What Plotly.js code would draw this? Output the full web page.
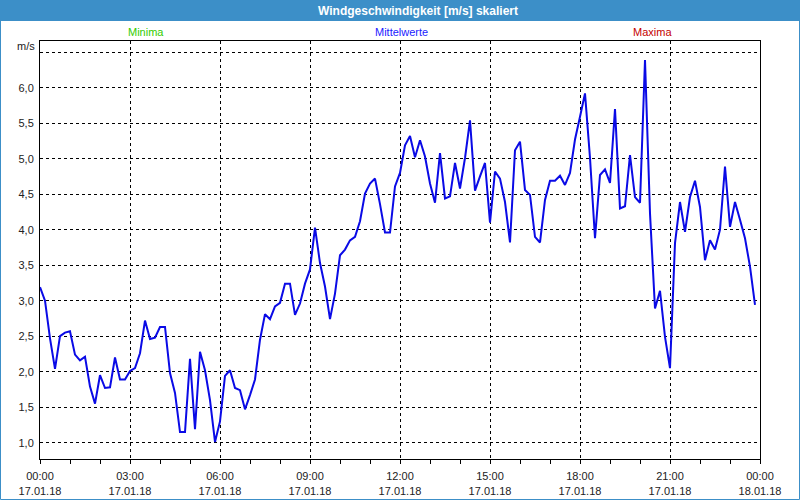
<!DOCTYPE html>
<html>
<head>
<meta charset="utf-8">
<script src="https://cdn.plot.ly/plotly-3.0.1.min.js"></script>
<style>
  html, body { margin: 0; padding: 0; background: #ffffff; }
  #chart { width: 800px; height: 500px; }
</style>
</head>
<body>
<div id="chart"></div>
<script>
// ---- data (10-minute means, 17.01.18 00:00 .. 23:50) ----
const speed = [
  3.19, 3.00, 2.47, 2.04, 2.50, 2.55, 2.57, 2.24, 2.16, 2.21,
  1.79, 1.55, 1.95, 1.77, 1.78, 2.20, 1.89, 1.89, 2.01, 2.05,
  2.26, 2.72, 2.46, 2.48, 2.63, 2.63, 1.98, 1.70, 1.15, 1.15,
  2.18, 1.19, 2.28, 2.02, 1.60, 1.01, 1.30, 1.94, 2.02, 1.77,
  1.74, 1.47, 1.67, 1.89, 2.45, 2.81, 2.74, 2.92, 2.97, 3.24,
  3.24, 2.80, 2.96, 3.24, 3.44, 4.03, 3.53, 3.20, 2.74, 3.10,
  3.64, 3.72, 3.85, 3.90, 4.12, 4.51, 4.65, 4.72, 4.36, 3.96,
  3.96, 4.61, 4.80, 5.19, 5.32, 5.02, 5.26, 5.03, 4.65, 4.38,
  5.08, 4.44, 4.47, 4.94, 4.58, 5.01, 5.54, 4.55, 4.75, 4.94,
  4.10, 4.82, 4.72, 4.39, 3.82, 5.12, 5.24, 4.56, 4.49, 3.90,
  3.82, 4.42, 4.69, 4.69, 4.76, 4.63, 4.80, 5.27, 5.59, 5.92,
  5.01, 3.88, 4.77, 4.85, 4.66, 5.70, 4.30, 4.33, 5.05, 4.46,
  4.38, 6.39, 4.23, 2.89, 3.14, 2.49, 2.05, 3.81, 4.39, 3.97,
  4.46, 4.69, 4.32, 3.57, 3.85, 3.72, 4.00, 4.89, 4.04, 4.39,
  4.14, 3.88, 3.48, 2.94
];
const stepHours = 10 / 60;            // sampling interval
const xTickVals = [0, 3, 6, 9, 12, 15, 18, 21, 24];
const xTickTime = ["00:00", "03:00", "06:00", "09:00", "12:00", "15:00", "18:00", "21:00", "00:00"];
const xTickDate = ["17.01.18", "17.01.18", "17.01.18", "17.01.18", "17.01.18", "17.01.18", "17.01.18", "17.01.18", "18.01.18"];
const yTickVals = [1.0, 1.5, 2.0, 2.5, 3.0, 3.5, 4.0, 4.5, 5.0, 5.5, 6.0, 6.5];
const yTickText = ["1,0", "1,5", "2,0", "2,5", "3,0", "3,5", "4,0", "4,5", "5,0", "5,5", "6,0", ""];
const seriesNames = ["Minima", "Mittelwerte", "Maxima"];
const seriesColors = ["#33cc00", "#1a1aff", "#c40000"];
const titleText = "Windgeschwindigkeit [m/s] skaliert";
const unitText = "m/s";

// ---- build ----
const hours = speed.map((_, i) => i * stepHours);

const W = 800, H = 500;
const M = { l: 40, r: 40, t: 41, b: 41 };
const PW = W - M.l - M.r, PH = H - M.t - M.b;
const px = (x) => (x - M.l) / PW;          // pixel -> paper x
const py = (y) => (H - M.b - y) / PH;      // pixel -> paper y

const font = "Liberation Sans, Arial, sans-serif";

const trace = {
  x: hours, y: speed, type: "scatter", mode: "lines",
  line: { color: "rgb(10,10,230)", width: 2 },
  hoverinfo: "skip", showlegend: false
};

const legendX = [146, 401, 652];
const annotations = seriesNames.map((n, i) => ({
  text: n, xref: "paper", yref: "paper",
  x: px(legendX[i]), y: py(32), xanchor: "center", yanchor: "middle",
  showarrow: false, font: { family: font, size: 11, color: seriesColors[i] }
}));
annotations.push({
  text: unitText, xref: "paper", yref: "paper",
  x: px(37), y: py(46), xanchor: "right", yanchor: "middle",
  showarrow: false, font: { family: font, size: 11, color: "#222" }
});

const layout = {
  width: W, height: H,
  margin: M,
  paper_bgcolor: "#ffffff", plot_bgcolor: "#ffffff",
  title: {
    text: titleText, x: 418 / W, xanchor: "center", xref: "container",
    y: 1 - 10.5 / H, yanchor: "middle", yref: "container",
    font: { family: font, size: 12, color: "#ffffff", weight: "bold" }
  },
  xaxis: {
    range: [0, 24], tickmode: "array", tickvals: xTickVals,
    ticktext: xTickVals.map((_, i) => xTickTime[i] + "<br>" + xTickDate[i]),
    showgrid: true, gridcolor: "#000000", gridwidth: 1, griddash: "3px,3px",
    showline: true, linecolor: "#000000", linewidth: 1, mirror: true,
    ticks: "outside", ticklen: 4, tickcolor: "#000000", tickwidth: 1,
    minor: { tickmode: "linear", tick0: 0, dtick: 1, ticks: "outside", ticklen: 4, tickcolor: "#000000", showgrid: false },
    tickfont: { family: font, size: 11, color: "#222" },
    zeroline: false, fixedrange: true, ticklabelstandoff: 3
  },
  yaxis: {
    range: [0.77, 6.658], tickmode: "array", tickvals: yTickVals, ticktext: yTickText,
    showgrid: true, gridcolor: "#000000", gridwidth: 1, griddash: "3px,3px",
    showline: true, linecolor: "#000000", linewidth: 1, mirror: true,
    ticks: "", tickfont: { family: font, size: 11, color: "#222" },
    zeroline: false, fixedrange: true, ticklabelstandoff: 3
  },
  shapes: [
    { type: "rect", xref: "paper", yref: "paper", layer: "below",
      x0: px(0), x1: px(W), y0: py(0), y1: py(21),
      fillcolor: "#3c8fc8", line: { width: 0 } },
    { type: "rect", xref: "paper", yref: "paper", layer: "above",
      x0: px(0.5), x1: px(W - 0.5), y0: py(0.5), y1: py(H - 0.5),
      fillcolor: "rgba(0,0,0,0)", line: { color: "#3c8fc8", width: 1 } }
  ],
  annotations: annotations,
  showlegend: false
};

Plotly.newPlot("chart", [trace], layout, { staticPlot: true, displayModeBar: false });
</script>
</body>
</html>
